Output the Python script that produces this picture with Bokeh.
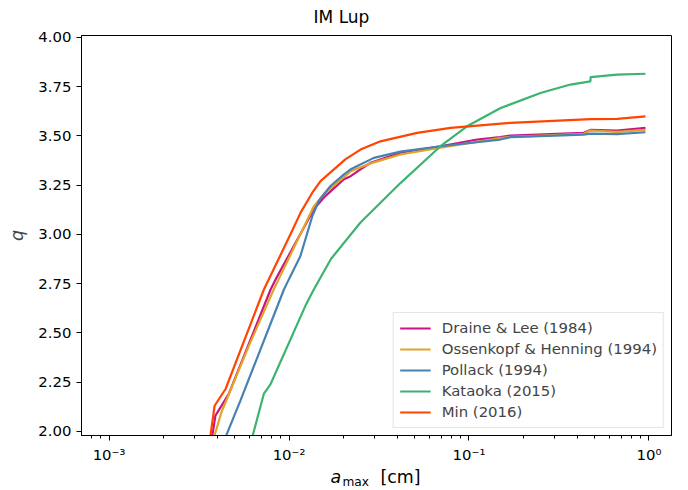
from bokeh.plotting import figure
from bokeh.models import (Range1d, FixedTicker, CustomJSTickFormatter, NumeralTickFormatter)
from bokeh.layouts import column
from bokeh.core.properties import value
from bokeh.embed import file_html
from bokeh.resources import INLINE

# ---- data ----
dl_a = [0.00375, 0.0039, 0.00463, 0.0079, 0.00841, 0.01374, 0.01558, 0.0202, 0.022, 0.02495,
        0.0284, 0.0416, 0.0694, 0.111, 0.149, 0.170, 0.434, 0.473, 0.665, 0.956]
dl_q = [1.98, 2.08, 2.19, 2.72, 2.77, 3.127, 3.186, 3.28, 3.295, 3.33,
        3.363, 3.414, 3.447, 3.481, 3.493, 3.501, 3.515, 3.53, 3.527, 3.54]

os_a = [0.00386, 0.00421, 0.00598, 0.00822, 0.00874, 0.0137, 0.0158, 0.0202, 0.022, 0.0284,
        0.0416, 0.0694, 0.149, 0.170, 0.434, 0.473, 0.665, 0.956]
os_q = [1.98, 2.097, 2.434, 2.72, 2.77, 3.14, 3.21, 3.29, 3.32, 3.36,
        3.405, 3.44, 3.488, 3.495, 3.51, 3.527, 3.52, 3.53]

po_a = [0.00448, 0.00537, 0.00937, 0.00996, 0.01157, 0.01348, 0.01463, 0.0170, 0.0202, 0.022,
        0.0296, 0.0416, 0.0694, 0.149, 0.170, 0.434, 0.473, 0.665, 0.956]
po_q = [1.98, 2.156, 2.72, 2.77, 2.89, 3.093, 3.169, 3.245, 3.304, 3.33,
        3.388, 3.42, 3.447, 3.481, 3.493, 3.506, 3.511, 3.508, 3.518]

ka_a = [0.00629, 0.00724, 0.0079, 0.01233, 0.01373, 0.0171, 0.02495, 0.0416, 0.0694, 0.0975,
        0.149, 0.2495, 0.366, 0.473, 0.474, 0.665, 0.956]
ka_q = [1.98, 2.19, 2.24, 2.637, 2.72, 2.875, 3.06, 3.26, 3.447, 3.548,
        3.64, 3.717, 3.76, 3.776, 3.798, 3.81, 3.815]

mi_a = [0.00366, 0.00386, 0.00444, 0.00725, 0.01019, 0.0116, 0.01344, 0.01496, 0.02055, 0.02495,
        0.0322, 0.0515, 0.079, 0.170, 0.473, 0.665, 0.956]
mi_q = [1.98, 2.13, 2.215, 2.72, 3.0, 3.11, 3.21, 3.27, 3.38, 3.43,
        3.472, 3.515, 3.54, 3.566, 3.585, 3.586, 3.599]

series_names = ["Draine & Lee (1984)", "Ossenkopf & Henning (1994)", "Pollack (1994)",
                "Kataoka (2015)", "Min (2016)"]
series_colors = ["#c71585", "#e3a325", "#4682b4", "#3cb371", "#ff4500"]

x_major = [1e-3, 1e-2, 1e-1, 1e0]
y_ticks = [2.0, 2.25, 2.5, 2.75, 3.0, 3.25, 3.5, 3.75, 4.0]

FONT = "DejaVu Sans"
LEFT, RIGHT = 81, 17          # page pixels of the axes frame borders


def strip(height):
    """A blank strip whose x data coordinates equal page pixels."""
    s = figure(width=688, height=height, x_range=Range1d(LEFT, 688 - RIGHT),
               y_range=Range1d(height, 0), output_backend="svg", toolbar_location=None,
               min_border_left=LEFT, min_border_right=RIGHT, min_border_top=0,
               min_border_bottom=0, x_axis_location=None, y_axis_location=None)
    s.outline_line_color = None
    s.xgrid.visible = False
    s.ygrid.visible = False
    s.background_fill_color = "white"
    s.border_fill_color = "white"
    return s


# ---- title strip (figure-centred title) ----
p0 = strip(27)
p0.text(x=[341], y=[16], text=["IM Lup"], text_font=value(FONT), text_font_size="17px",
        text_align="center", text_baseline="alphabetic", text_color="black")

# ---- main axes ----
p = figure(width=688, height=439, x_axis_type="log",
           x_range=Range1d(7.03e-4, 1.334), y_range=Range1d(1.979, 4.009),
           output_backend="svg", toolbar_location=None,
           min_border_left=LEFT, min_border_right=RIGHT, min_border_top=8, min_border_bottom=30)

p.background_fill_color = "white"
p.border_fill_color = "white"
p.outline_line_color = "black"
p.outline_line_width = 1
p.xgrid.visible = False
p.ygrid.visible = False

series = [(dl_a, dl_q), (os_a, os_q), (po_a, po_q), (ka_a, ka_q), (mi_a, mi_q)]
for (a, q), name, col in zip(series, series_names, series_colors):
    p.line(a, q, line_color=col, line_width=2.2, legend_label=name)

x_minor = [m * 10.0 ** e for e in range(-4, 1) for m in range(2, 10)]
xa = p.xaxis[0]
xa.ticker = FixedTicker(ticks=x_major, minor_ticks=x_minor)
xa.formatter = CustomJSTickFormatter(code="""
const e = Math.round(Math.log10(tick));
const sup = {'-':'\u207b','0':'\u2070','1':'\u00b9','2':'\u00b2','3':'\u00b3'};
return '10' + String(e).split('').map(c => sup[c]).join('');
""")
ya = p.yaxis[0]
ya.ticker = FixedTicker(ticks=y_ticks)
ya.formatter = NumeralTickFormatter(format="0.00")
ya.axis_label = "q"
ya.axis_label_text_font_style = "italic"
ya.axis_label_text_font_size = "17.4px"
ya.axis_label_text_font = FONT
ya.axis_label_standoff = 8

for ax in (xa, ya):
    ax.axis_line_color = "black"
    ax.major_tick_line_color = "black"
    ax.major_tick_in = 0
    ax.major_tick_out = 5
    ax.minor_tick_in = 0
    ax.minor_tick_out = 3
    ax.major_label_text_font = FONT
    ax.major_label_text_font_size = "14.9px"
    ax.major_label_text_color = "black"
    ax.major_label_standoff = 5
xa.minor_tick_line_color = "black"
ya.minor_tick_line_color = None

lg = p.legend[0]
lg.location = "bottom_right"
lg.margin = 7
lg.padding = 6
lg.spacing = 3
lg.label_height = 18
lg.glyph_height = 18
lg.glyph_width = 31
lg.label_standoff = 11
lg.label_text_font = FONT
lg.label_text_font_size = "14.9px"
lg.border_line_color = "#cccccc"
lg.border_line_width = 1
lg.background_fill_alpha = 0.8

# ---- x axis label strip: a_max [cm] ----
p2 = strip(24)
p2.text(x=[330], y=[10.2], text=["a"], text_font=value(FONT), text_font_size="17.4px",
        text_font_style="italic", text_baseline="alphabetic", text_color="black")
p2.text(x=[342], y=[15.0], text=["max"], text_font=value(FONT), text_font_size="12.2px",
        text_baseline="alphabetic", text_color="black")
p2.text(x=[380], y=[10.2], text=["[cm]"], text_font=value(FONT), text_font_size="17.4px",
        text_baseline="alphabetic", text_color="black")

layout = column(p0, p, p2, spacing=0)
open("out.html", "w").write(file_html(layout, INLINE))
